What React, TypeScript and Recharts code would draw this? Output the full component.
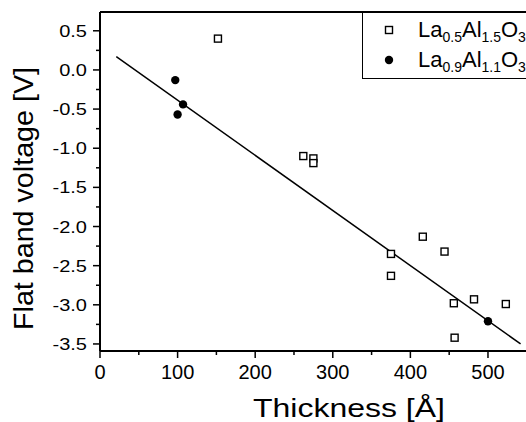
import React from 'react';
import { ScatterChart, Scatter, XAxis, YAxis, ReferenceLine } from 'recharts';

const squareX = [152, 262, 275, 275, 375, 375, 416, 444, 456, 482, 523, 457];
const squareY = [0.4, -1.1, -1.13, -1.19, -2.35, -2.63, -2.13, -2.32, -2.98, -2.93, -2.99, -3.42];
const circleX = [97, 107, 100, 500];
const circleY = [-0.13, -0.44, -0.57, -3.21];
const fitX = [21, 542];
const fitY = [0.17, -3.5];

const xTicks = [0, 50, 100, 150, 200, 250, 300, 350, 400, 450, 500];
const yTicks = [-3.5, -3.25, -3.0, -2.75, -2.5, -2.25, -2.0, -1.75, -1.5, -1.25, -1.0, -0.75, -0.5, -0.25, 0.0, 0.25, 0.5];

const X_MAX = 549;
const Y_MIN = -3.59;
const Y_MAX = 0.74;

const squares = squareX.map((x, i) => ({ x, y: squareY[i] }));
const circles = circleX.map((x, i) => ({ x, y: circleY[i] }));

const FONT = '"Liberation Sans", Arial, Helvetica, sans-serif';

const SquareShape = (p: any) => (
  <rect x={p.cx - 3.5} y={p.cy - 3.5} width={7} height={7} fill="#fff" stroke="#000" strokeWidth={1.4} />
);
const CircleShape = (p: any) => <circle cx={p.cx} cy={p.cy} r={4.2} fill="#000" />;

const YTick = (p: any) => {
  const v = p.payload.value;
  const major = Math.abs(v * 2 - Math.round(v * 2)) < 1e-6;
  return (
    <g>
      <line x1={p.x - (major ? 7 : 4)} x2={p.x} y1={p.y} y2={p.y} stroke="#000" strokeWidth={1.5} />
      {major && (
        <text
          transform={`translate(${p.x - 13},${p.y + 6}) scale(1.25,1)`}
          textAnchor="end"
          fontSize={16}
          fontFamily={FONT}
          fill="#000"
        >
          {v.toFixed(1)}
        </text>
      )}
    </g>
  );
};

const XTick = (p: any) => {
  const v = p.payload.value;
  const major = v % 100 === 0;
  return (
    <g>
      <line x1={p.x} x2={p.x} y1={p.y} y2={p.y + (major ? 7 : 4)} stroke="#000" strokeWidth={1.5} />
      {major && (
        <text x={p.x} y={p.y + 28} textAnchor="middle" fontSize={20} fontFamily={FONT} fill="#000">
          {v}
        </text>
      )}
    </g>
  );
};

const sub = { fontSize: 14, verticalAlign: '-5px', lineHeight: 0 };

const Formula = ({ a, b }: { a: string; b: string }) => (
  <span>
    La<span style={sub}>{a}</span>Al<span style={sub}>{b}</span>O<span style={sub}>3</span>
  </span>
);

const LegendBox = () => (
  <div
    style={{
      position: 'absolute',
      left: 362,
      top: 12,
      border: '1.5px solid #000',
      background: '#fff',
      paddingTop: 2,
      paddingBottom: 3,
      width: 170,
      fontFamily: FONT,
      fontSize: 22,
      color: '#000',
      boxSizing: 'border-box',
    }}
  >
    <div style={{ height: 30, lineHeight: '30px', display: 'flex', alignItems: 'center' }}>
      <svg width={10} height={10} style={{ marginLeft: 21, marginRight: 24 }}>
        <rect x={1.5} y={1.5} width={7} height={7} fill="#fff" stroke="#000" strokeWidth={1.4} />
      </svg>
      <Formula a="0.5" b="1.5" />
    </div>
    <div style={{ height: 30, lineHeight: '30px', display: 'flex', alignItems: 'center' }}>
      <svg width={10} height={10} style={{ marginLeft: 21, marginRight: 24 }}>
        <circle cx={5} cy={5} r={4.2} fill="#000" />
      </svg>
      <Formula a="0.9" b="1.1" />
    </div>
  </div>
);

export default function App() {
  return (
    <div style={{ position: 'absolute', left: 0, top: 0, width: 526, height: 422, overflow: 'hidden', background: '#fff' }}>
      <ScatterChart width={526} height={422} margin={{ top: 12, right: 0, bottom: 0, left: 0 }}>
        <XAxis
          type="number"
          dataKey="x"
          domain={[0, X_MAX]}
          ticks={xTicks}
          interval={0}
          tick={<XTick />}
          tickLine={false}
          tickSize={0}
          tickMargin={0}
          height={71}
          axisLine={{ stroke: '#000', strokeWidth: 2 }}
          allowDataOverflow
          label={{
            content: () => (
              <text
                x={253}
                y={417}
                textLength={192}
                lengthAdjust="spacingAndGlyphs"
                fontSize={25}
                fontFamily={FONT}
                fill="#000"
              >
                Thickness [Å]
              </text>
            ),
          }}
        />
        <YAxis
          type="number"
          dataKey="y"
          domain={[Y_MIN, Y_MAX]}
          ticks={yTicks}
          interval={0}
          tick={<YTick />}
          tickLine={false}
          tickSize={0}
          tickMargin={0}
          width={100}
          axisLine={{ stroke: '#000', strokeWidth: 2 }}
          allowDataOverflow
          label={{
            content: () => (
              <text
                transform="translate(33,198.5) rotate(-90)"
                textAnchor="middle"
                textLength={263}
                lengthAdjust="spacingAndGlyphs"
                fontSize={28}
                fontFamily={FONT}
                fill="#000"
              >
                Flat band voltage [V]
              </text>
            ),
          }}
        />
        <ReferenceLine y={Y_MAX} stroke="#000" strokeWidth={2} ifOverflow="extendDomain" />
        <ReferenceLine
          segment={[
            { x: fitX[0], y: fitY[0] },
            { x: fitX[1], y: fitY[1] },
          ]}
          stroke="#000"
          strokeWidth={1.5}
        />
        <Scatter name="a" data={squares} shape={<SquareShape />} isAnimationActive={false} />
        <Scatter name="b" data={circles} shape={<CircleShape />} isAnimationActive={false} />
      </ScatterChart>
      <LegendBox />
    </div>
  );
}
